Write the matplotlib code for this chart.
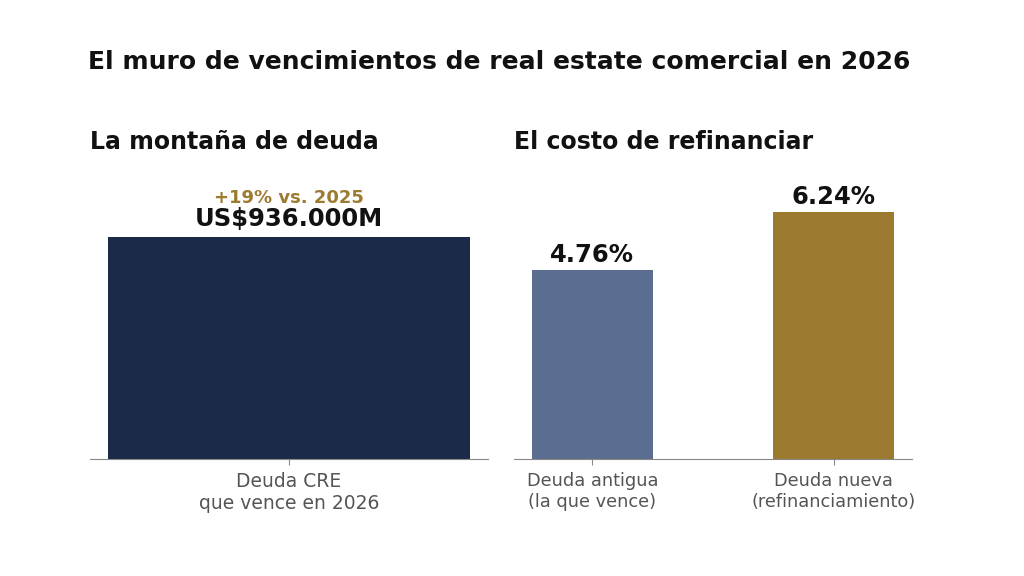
import matplotlib
matplotlib.use("Agg")
import matplotlib.pyplot as plt

plt.rcParams["font.family"] = ["DejaVu Sans"]

# Datos
deuda_label = ["Deuda CRE\nque vence en 2026"]
deuda_valor = [936]
tasas_labels = ["Deuda antigua\n(la que vence)", "Deuda nueva\n(refinanciamiento)"]
tasas_valores = [4.76, 6.24]

navy = "#1c2a4a"
azul = "#5b6e8f"
dorado = "#9c7a30"
gris = "#888888"

fig = plt.figure(figsize=(10.24, 5.76), dpi=100)
fig.suptitle("El muro de vencimientos de real estate comercial en 2026",
             fontsize=18, fontweight="bold", x=0.487, y=0.914, color="#111111")

ax1 = fig.add_axes([90 / 1024, 117 / 576, 398 / 1024, 279 / 576])
ax2 = fig.add_axes([514 / 1024, 117 / 576, 398 / 1024, 279 / 576])

# Izquierda: montaña de deuda
ax1.bar(range(len(deuda_valor)), deuda_valor, width=0.8, color=navy)
ax1.set_ylim(0, 1176)
ax1.set_xticks(range(len(deuda_valor)))
ax1.set_xticklabels(deuda_label, fontsize=13.5, color="#555555")
ax1.text(0, deuda_valor[0] + 25, "US$936.000M", ha="center", va="bottom",
         fontsize=17.5, fontweight="bold", color="#111111")
ax1.text(0, deuda_valor[0] + 128, "+19% vs. 2025", ha="center", va="bottom",
         fontsize=13, fontweight="bold", color=dorado)
ax1.set_title("La montaña de deuda", loc="left", fontsize=17, fontweight="bold",
              pad=22, color="#111111")

# Derecha: costo de refinanciar
ax2.bar(range(len(tasas_valores)), tasas_valores, width=0.5, color=[azul, dorado])
ax2.set_ylim(0, 7.04)
ax2.set_xticks(range(len(tasas_valores)))
ax2.set_xticklabels(tasas_labels, fontsize=12.75, color="#555555")
for i, v in enumerate(tasas_valores):
    ax2.text(i, v + 0.08, f"{v:.2f}%", ha="center", va="bottom",
             fontsize=17.5, fontweight="bold", color="#111111")
ax2.set_title("El costo de refinanciar", loc="left", fontsize=17, fontweight="bold",
              pad=22, color="#111111")

for ax in (ax1, ax2):
    for s in ("top", "right", "left"):
        ax.spines[s].set_visible(False)
    ax.spines["bottom"].set_color(gris)
    ax.set_yticks([])
    ax.tick_params(axis="x", colors=gris, labelcolor="#555555", length=4, pad=5.5)

fig.savefig("out.png", dpi=100)
